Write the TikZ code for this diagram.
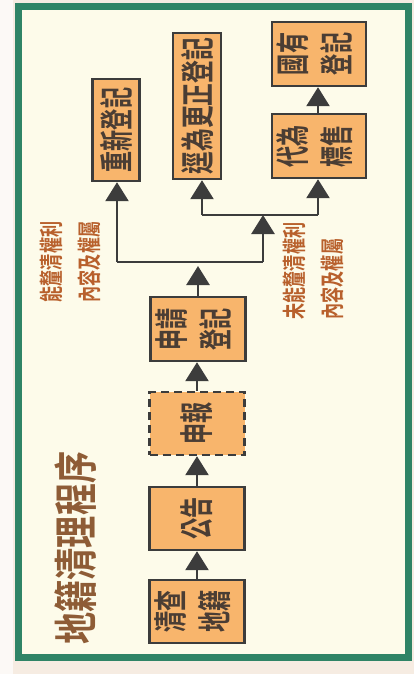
\documentclass[tikz,border=0pt]{standalone}
\usepackage{fontspec}
\usetikzlibrary{arrows.meta}
\newfontfamily\cjk{Noto Sans CJK TC}[BoldFont={Noto Sans CJK TC Bold}]
\definecolor{bgout}{HTML}{F6ECE2}
\definecolor{cream}{HTML}{FDFBEA}
\definecolor{framegreen}{HTML}{2F8466}
\definecolor{boxfill}{HTML}{F8B56C}
\definecolor{boxline}{HTML}{3C3C3C}
\definecolor{boxtext}{HTML}{4A3D34}
\definecolor{labeltext}{HTML}{B8602C}
\definecolor{titletext}{HTML}{8E5C36}
\newcommand\vtext[2]{\rotatebox{90}{\scalebox{#1}[1]{#2}}}
\newcommand\lines[1]{\begin{tabular}{@{}l@{}}#1\end{tabular}}
\begin{document}
\begin{tikzpicture}[x=1pt,y=-1pt,
  stepbox/.style={draw=boxline, fill=boxfill, line width=2.4pt, inner sep=0pt,
    text=boxtext, font=\cjk\bfseries\fontsize{34}{44}\selectfont},
  dashbox/.style={stepbox, dash pattern=on 8pt off 5pt},
  conn/.style={draw=boxline, line width=2.6pt, -{Triangle[width=23pt,length=19pt]}},
  plain/.style={draw=boxline, line width=2.6pt},
  lab/.style={inner sep=0pt, text=labeltext, font=\cjk\bfseries\fontsize{24}{38}\selectfont},
  ttl/.style={inner sep=0pt, text=titletext, font=\cjk\bfseries\fontsize{44}{50}\selectfont}
]
\useasboundingbox (0,0) rectangle (414,674);
\fill[bgout] (0,0) rectangle (414,674);
\fill[white!70!bgout] (0,0) rectangle (13,674);
\fill[cream] (18,7) rectangle (408,657);
\draw[framegreen, line width=7pt] (18,7) rectangle (408,657);

% boxes
\node[stepbox, minimum width=95pt, minimum height=63pt] (A) at (197,611.5) {\vtext{0.62}{\lines{清查\\地籍}}};
\node[stepbox, minimum width=95pt, minimum height=63pt] (B) at (197,518.5) {\vtext{0.62}{公告}};
\node[dashbox, minimum width=95pt, minimum height=63pt] (C) at (197,423.5) {\vtext{0.62}{申報}};
\node[stepbox, minimum width=95pt, minimum height=64pt] (D) at (198,329) {\vtext{0.62}{\lines{申請\\登記}}};
\node[stepbox, minimum width=47pt, minimum height=102pt] (E) at (116,130) {\vtext{0.62}{重新登記}};
\node[stepbox, minimum width=48pt, minimum height=146pt] (F) at (197,106) {\vtext{0.67}{逕為更正登記}};
\node[stepbox, minimum width=94pt, minimum height=64pt] (G) at (319,146) {\vtext{0.62}{\lines{代為\\標售}}};
\node[stepbox, minimum width=94pt, minimum height=64pt] (H) at (319,54) {\vtext{0.62}{\lines{國有\\登記}}};

% labels
\node[lab] (L1) at (72,262) {\vtext{0.67}{\lines{能釐清權利\\內容及權屬}}};
\node[lab] (L2) at (315,271) {\vtext{0.67}{\lines{未能釐清權利\\內容及權屬}}};
\node[ttl] (T) at (76,548) {\vtext{0.73}{地籍清理程序}};

% junctions
\coordinate (dt) at (198,266);
\coordinate (ml) at (117,262);
\coordinate (mr) at (263,262);
\coordinate (bm) at (263,215);
\coordinate (bl) at (202,215);
\coordinate (br) at (318,215);

% connectors
\draw[conn] (A.north) -- (B.south);
\draw[conn] (B.north) -- (C.south);
\draw[conn] (C.north) -- (C.north |- D.south);
\draw[conn] (D.north) -- (dt);
\draw[plain] (ml) -- (mr);
\draw[conn] (ml) -- (ml |- E.south);
\draw[conn] (mr) -- (bm);
\draw[plain] (bl) -- (br);
\draw[conn] (bl) -- (bl |- F.south);
\draw[conn] (br) -- (br |- G.south);
\draw[conn] (G.north -| br) -- (br |- H.south);
\end{tikzpicture}
\end{document}
